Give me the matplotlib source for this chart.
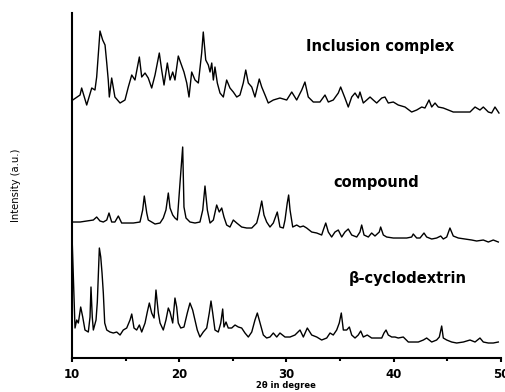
import matplotlib.pyplot as plt
from matplotlib.ticker import MultipleLocator

# XRD patterns (2theta in degree, intensity in a.u.)
ic_2theta = [10.07, 10.75, 10.9, 11.12, 11.37, 11.84, 12.14, 12.3, 12.61, 12.86,
             13.08, 13.24, 13.38, 13.48, 13.7, 14.0, 14.48, 14.94, 15.25, 15.57,
             15.87, 16.28, 16.5, 16.81, 17.11, 17.43, 17.74, 18.14, 18.36, 18.58,
             18.89, 19.14, 19.39, 19.6, 19.91, 20.14, 20.44, 20.7, 20.91, 21.16,
             21.47, 21.78, 22.09, 22.24, 22.47, 22.71, 22.87, 23.03, 23.18, 23.33,
             23.55, 23.8, 24.11, 24.42, 24.73, 25.04, 25.36, 25.66, 25.97, 26.2,
             26.44, 26.76, 27.06, 27.46, 27.69, 28.0, 28.3, 28.77, 29.39, 30.02,
             30.49, 30.95, 31.42, 31.72, 32.03, 32.5, 33.12, 33.59, 33.9, 34.36,
             34.83, 35.05, 35.45, 35.76, 36.08, 36.39, 36.69, 36.85, 37.16, 37.48,
             37.79, 38.09, 38.41, 38.88, 39.18, 39.49, 39.96, 40.42, 41.05, 41.67,
             42.14, 42.61, 42.91, 43.29, 43.54, 43.85, 44.15, 44.62, 45.09, 45.55,
             46.34, 47.11, 47.58, 48.04, 48.35, 48.82, 49.13, 49.44, 49.81]
ic_int = [28, 33, 40, 32, 23, 40, 38, 51, 97, 88,
          83, 65, 48, 31, 50, 31, 25, 28, 41, 53,
          48, 71, 51, 55, 50, 40, 53, 75, 58, 43,
          65, 48, 56, 48, 72, 65, 56, 45, 31, 56,
          48, 45, 75, 96, 68, 63, 56, 65, 48, 61,
          45, 35, 31, 48, 40, 36, 31, 33, 45, 58,
          45, 41, 31, 49, 41, 33, 25, 28, 30, 28,
          36, 28, 38, 46, 31, 26, 26, 33, 26, 28,
          35, 41, 30, 21, 31, 35, 30, 36, 25, 28,
          31, 28, 25, 30, 31, 25, 26, 23, 21, 16,
          18, 21, 20, 28, 21, 25, 21, 20, 18, 16,
          16, 16, 21, 18, 21, 16, 15, 21, 15]

cp_2theta = [10.07, 10.75, 11.37, 11.99, 12.3, 12.61, 12.92, 13.24, 13.45, 13.7,
             14.0, 14.32, 14.63, 15.1, 15.72, 16.34, 16.59, 16.74, 16.97, 17.11,
             17.43, 17.74, 18.21, 18.51, 18.76, 18.98, 19.14, 19.39, 19.6, 19.82,
             20.07, 20.32, 20.44, 20.63, 21.0, 21.47, 21.93, 22.19, 22.4, 22.62,
             22.87, 23.18, 23.49, 23.73, 23.96, 24.17, 24.42, 24.73, 25.04, 25.36,
             25.82, 26.29, 26.76, 27.22, 27.46, 27.69, 27.9, 28.15, 28.46, 28.77,
             29.14, 29.39, 29.7, 29.86, 30.07, 30.2, 30.33, 30.58, 30.95, 31.26,
             31.57, 31.88, 32.35, 32.82, 33.28, 33.43, 33.66, 33.9, 34.21, 34.52,
             34.83, 35.15, 35.45, 35.76, 36.08, 36.55, 36.85, 37.01, 37.23, 37.63,
             37.94, 38.25, 38.65, 38.78, 39.03, 39.34, 39.96, 40.58, 41.21, 41.67,
             41.82, 42.14, 42.45, 42.82, 43.07, 43.54, 44.0, 44.38, 44.62, 44.94,
             45.24, 45.55, 46.02, 46.64, 47.27, 47.73, 48.35, 48.82, 49.28, 49.75]
cp_int = [36, 36, 37, 38, 41, 37, 36, 38, 45, 36,
          36, 42, 35, 35, 35, 36, 48, 62, 45, 38,
          36, 34, 35, 40, 48, 65, 50, 43, 40, 38,
          75, 111, 51, 40, 36, 35, 36, 48, 72, 48,
          35, 38, 53, 46, 50, 41, 33, 31, 38, 35,
          31, 30, 30, 35, 45, 57, 43, 36, 31, 35,
          46, 31, 30, 38, 55, 63, 48, 31, 33, 31,
          32, 30, 26, 25, 23, 28, 35, 26, 21, 26,
          28, 21, 26, 29, 23, 21, 26, 33, 23, 21,
          25, 22, 26, 31, 23, 21, 20, 20, 20, 21,
          24, 20, 20, 25, 21, 19, 20, 22, 19, 21,
          30, 22, 20, 19, 18, 17, 18, 16, 18, 16]

bcd_2theta = [10.0, 10.28, 10.44, 10.59, 10.81, 11.0, 11.21, 11.52, 11.68, 11.77,
              11.89, 11.99, 12.24, 12.36, 12.55, 12.68, 12.8, 12.92, 13.05, 13.24,
              13.54, 13.85, 14.17, 14.48, 14.78, 15.1, 15.41, 15.57, 15.78, 16.03,
              16.28, 16.5, 16.81, 17.02, 17.21, 17.43, 17.65, 17.83, 18.05, 18.21,
              18.51, 18.76, 18.98, 19.14, 19.39, 19.6, 19.76, 19.91, 20.14, 20.44,
              20.75, 21.0, 21.25, 21.47, 21.68, 21.93, 22.24, 22.56, 22.8, 22.96,
              23.12, 23.33, 23.64, 23.87, 24.05, 24.17, 24.36, 24.57, 24.89, 25.2,
              25.51, 25.82, 26.13, 26.44, 26.76, 27.06, 27.28, 27.53, 27.84, 28.15,
              28.46, 28.77, 29.09, 29.39, 29.86, 30.33, 30.79, 31.26, 31.57, 31.94,
              32.35, 32.82, 33.28, 33.75, 34.06, 34.36, 34.68, 34.92, 35.11, 35.3,
              35.61, 35.86, 36.08, 36.39, 36.69, 36.92, 37.16, 37.53, 37.94, 38.41,
              38.88, 39.09, 39.28, 39.49, 39.81, 40.12, 40.42, 40.89, 41.36, 41.82,
              42.29, 42.76, 43.07, 43.54, 44.0, 44.25, 44.47, 44.62, 44.94, 45.4,
              45.87, 46.49, 47.11, 47.58, 48.04, 48.35, 48.82, 49.28, 49.75]
bcd_int = [123, 30, 38, 35, 51, 41, 28, 26, 41, 71,
           41, 28, 38, 56, 110, 101, 85, 65, 35, 28,
           26, 25, 26, 23, 28, 30, 38, 44, 30, 28,
           33, 26, 35, 46, 55, 45, 40, 68, 45, 35,
           28, 38, 50, 46, 35, 60, 51, 35, 30, 31,
           45, 55, 48, 38, 28, 21, 26, 30, 45, 57,
           45, 28, 26, 35, 49, 31, 36, 30, 30, 33,
           31, 30, 25, 21, 26, 38, 45, 35, 23, 20,
           21, 25, 21, 25, 21, 21, 23, 28, 21, 30,
           23, 21, 18, 20, 25, 23, 28, 35, 45, 28,
           28, 31, 23, 20, 23, 27, 21, 23, 20, 20,
           20, 25, 28, 23, 21, 21, 20, 21, 16, 16,
           16, 18, 20, 16, 18, 21, 32, 20, 18, 16,
           15, 16, 18, 16, 20, 16, 15, 15, 16]

names = ["Inclusion complex", "compound", "\u03b2-cyclodextrin"]
offsets = [230, 100, 0]

fig = plt.figure(figsize=(5.06, 3.92), dpi=100)
ax = fig.add_axes([0.1423, 0.0867, 0.8478, 0.8801])

for xs, ys, off in zip([ic_2theta, cp_2theta, bcd_2theta],
                       [ic_int, cp_int, bcd_int], offsets):
    ax.plot(xs, [v + off for v in ys], color="black", lw=1.0)

ax.set_xlim(10, 50)
ax.set_ylim(0, 345)
ax.set_yticks([])
ax.xaxis.set_major_locator(MultipleLocator(10))
ax.xaxis.set_minor_locator(MultipleLocator(5))
ax.tick_params(axis="x", which="both", direction="out", width=1.5, pad=4)
ax.tick_params(axis="x", which="major", length=3, labelsize=8.5)
ax.tick_params(axis="x", which="minor", length=2)
for lab in ax.get_xticklabels():
    lab.set_fontweight("bold")
for side in ["top", "right"]:
    ax.spines[side].set_visible(False)
ax.spines["left"].set_linewidth(1.5)
ax.spines["bottom"].set_linewidth(1.5)

# trace names
ax.text(38.7, 312, names[0], ha="center", va="center", fontsize=10.5, fontweight="bold")
ax.text(38.35, 175.5, names[1], ha="center", va="center", fontsize=10.5, fontweight="bold")
ax.text(41.3, 80, names[2], ha="center", va="center", fontsize=10.5, fontweight="bold")

fig.text(286 / 506, 1 - 386 / 392, "2\u03b8 in degree", ha="center", va="center",
         fontsize=6, fontweight="bold")
fig.text(16.5 / 506, 1 - 185 / 392, "Intensity (a.u.)", ha="center", va="center",
         rotation=90, fontsize=8, fontstretch="condensed")

fig.savefig("out.png", dpi=100)
